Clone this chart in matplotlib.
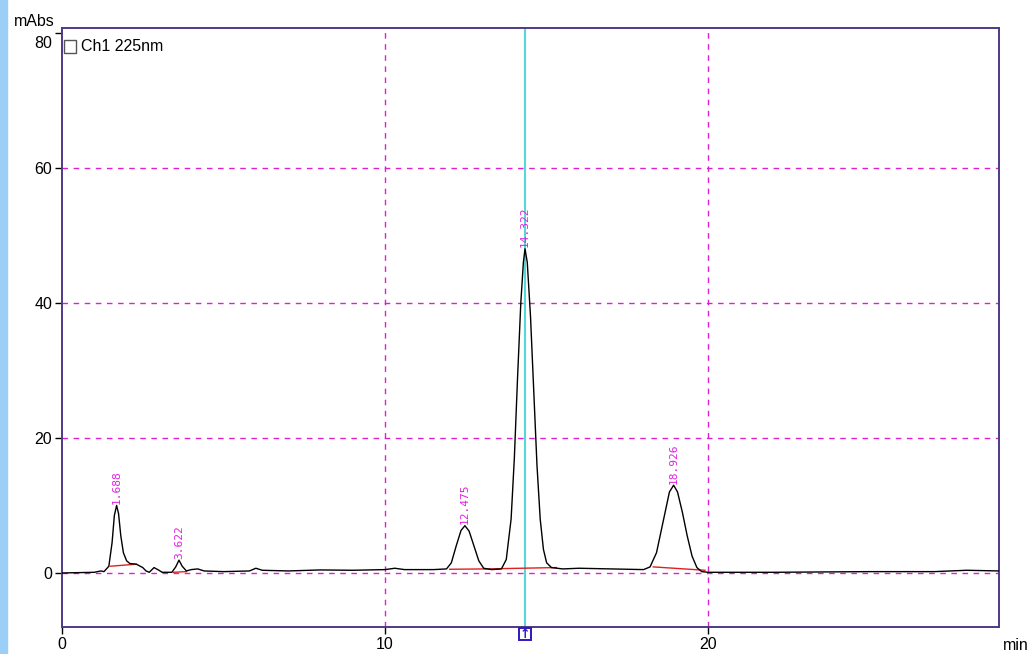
import matplotlib
matplotlib.use("Agg")
import matplotlib.pyplot as plt
from matplotlib.patches import Rectangle
from matplotlib.transforms import ScaledTranslation

# ---- data ----
trace_t = [0.0, 1.0, 1.2, 1.3, 1.45, 1.55, 1.62, 1.69, 1.75, 1.82, 1.9, 2.0, 2.1, 2.3, 2.5,
           2.6, 2.7, 2.85, 3.0, 3.1, 3.4, 3.52, 3.62, 3.72, 3.85, 4.0, 4.2, 4.4, 5.0, 5.8,
           6.0, 6.2, 7.0, 8.0, 9.0, 10.0, 10.3, 10.6, 11.5, 11.9, 12.05, 12.2, 12.35, 12.47,
           12.6, 12.75, 12.9, 13.05, 13.3, 13.6, 13.75, 13.9, 14.0, 14.1, 14.2, 14.28, 14.33,
           14.4, 14.5, 14.6, 14.7, 14.8, 14.9, 15.0, 15.15, 15.5, 16.0, 17.0, 18.0, 18.2,
           18.4, 18.6, 18.8, 18.93, 19.05, 19.2, 19.35, 19.5, 19.65, 19.8, 20.0, 22.0, 25.0,
           27.0, 28.0, 29.0]
trace_v = [0.0, 0.1, 0.3, 0.2, 1.0, 4.5, 8.5, 10.0, 8.8, 5.5, 3.0, 1.8, 1.4, 1.3, 0.8,
           0.3, 0.1, 0.8, 0.4, 0.1, 0.1, 0.9, 1.9, 1.0, 0.3, 0.5, 0.6, 0.3, 0.2, 0.3,
           0.7, 0.4, 0.3, 0.45, 0.4, 0.5, 0.7, 0.5, 0.5, 0.6, 1.5, 4.0, 6.3, 7.0,
           6.2, 4.0, 1.8, 0.7, 0.5, 0.6, 2.0, 8.0, 17.0, 29.0, 40.0, 46.0, 48.0,
           46.0, 38.0, 27.0, 16.0, 8.0, 3.5, 1.5, 0.8, 0.6, 0.7, 0.6, 0.5, 0.9,
           3.0, 7.5, 12.0, 13.0, 12.0, 9.0, 5.5, 2.5, 0.8, 0.2, 0.1, 0.1, 0.2,
           0.2, 0.4, 0.3]

# integration baselines (start t, start v, end t, end v)
base_t0 = [1.5, 3.45, 12.0, 13.1, 18.3]
base_v0 = [1.0, 0.1, 0.55, 0.6, 0.9]
base_t1 = [2.3, 3.85, 13.1, 15.3, 19.9]
base_v1 = [1.3, 0.2, 0.6, 0.8, 0.4]

peak_rt = [1.688, 3.622, 12.475, 14.322, 18.926]
peak_h = [10.0, 1.9, 7.0, 48.0, 13.0]
peak_lbl = ["1.688", "3.622", "12.475", "14.322", "18.926"]

cursor_t = 14.33
x_ticks = [0, 10, 20]
y_ticks = [0, 20, 40, 60, 80]

# ---- figure ----
fig = plt.figure(figsize=(10.31, 6.54), dpi=100)
fig.patches.append(Rectangle((0, 0), 7 / 1031, 1, transform=fig.transFigure,
                             color="#9ccff7", zorder=0))
ax = fig.add_axes([62 / 1031, 1 - 627 / 654, 937 / 1031, 599 / 654])
ax.set_xlim(0, 29.0)
ax.set_ylim(-8, 80.7)

spine_c = "#4e3a86"
for s in ax.spines.values():
    s.set_color(spine_c)
    s.set_linewidth(1.4)

grid_c = "#e020d0"
for x in x_ticks[1:]:
    ax.axvline(x, color=grid_c, lw=1.0, ls=(0, (4, 4)), zorder=1)
for y in y_ticks[:-1]:
    ax.axhline(y, color=grid_c, lw=1.0, ls=(0, (4, 4)), zorder=1)

ax.axvline(cursor_t, color="#55d8d8", lw=1.5, zorder=2)

ax.plot(trace_t, trace_v, color="black", lw=1.0, zorder=4)
for t0, v0, t1, v1 in zip(base_t0, base_v0, base_t1, base_v1):
    ax.plot([t0, t1], [v0, v1], color="#e02020", lw=1.0, zorder=3)

for rt, h, lbl in zip(peak_rt, peak_h, peak_lbl):
    ax.text(rt, h + 0.2, lbl, rotation=90, ha="center", va="bottom",
            color="#e020e0", fontsize=8, family="DejaVu Sans Mono", zorder=5)

ax.set_xticks(x_ticks)
ax.set_yticks(y_ticks)
ax.tick_params(axis="both", direction="out", length=5, width=1, color="black",
               labelsize=11.5, pad=2)
for lab in ax.get_xticklabels() + ax.get_yticklabels():
    lab.set_family("Liberation Sans")
ylabs = ax.get_yticklabels()
ylabs[-1].set_transform(ylabs[-1].get_transform() +
                        ScaledTranslation(0, -9 / 100, fig.dpi_scale_trans))

fig.text(14 / 1031, 1 - 21 / 654, "mAbs", fontsize=11.5, family="Liberation Sans",
         va="center", ha="left")
fig.text(1003 / 1031, 1 - 646 / 654, "min", fontsize=11.5, family="Liberation Sans",
         va="center", ha="left")

# legend box
ax.add_patch(Rectangle((0.06, 77.0), 0.38, 1.9, fill=False, ec="#555555", lw=1.0,
                       zorder=6, clip_on=False))
ax.text(0.6, 78.0, "Ch1 225nm", fontsize=11.5, family="Liberation Sans",
        va="center", ha="left", zorder=6)

# cursor marker under the axis
mx = ax.transData.transform((cursor_t, 0))[0]
bx = fig.transFigure.inverted().transform((mx, 0))[0]
fig.patches.append(Rectangle((bx - 6 / 1031, 1 - 640 / 654), 12 / 1031, 12 / 654,
                             transform=fig.transFigure, fill=False, ec="#3018c0", lw=1.4))
fig.text(bx, 1 - 634 / 654, "\u2191", color="#3018c0", fontsize=9, fontweight="bold",
         ha="center", va="center", family="DejaVu Sans")

fig.savefig("out.png", dpi=100)
